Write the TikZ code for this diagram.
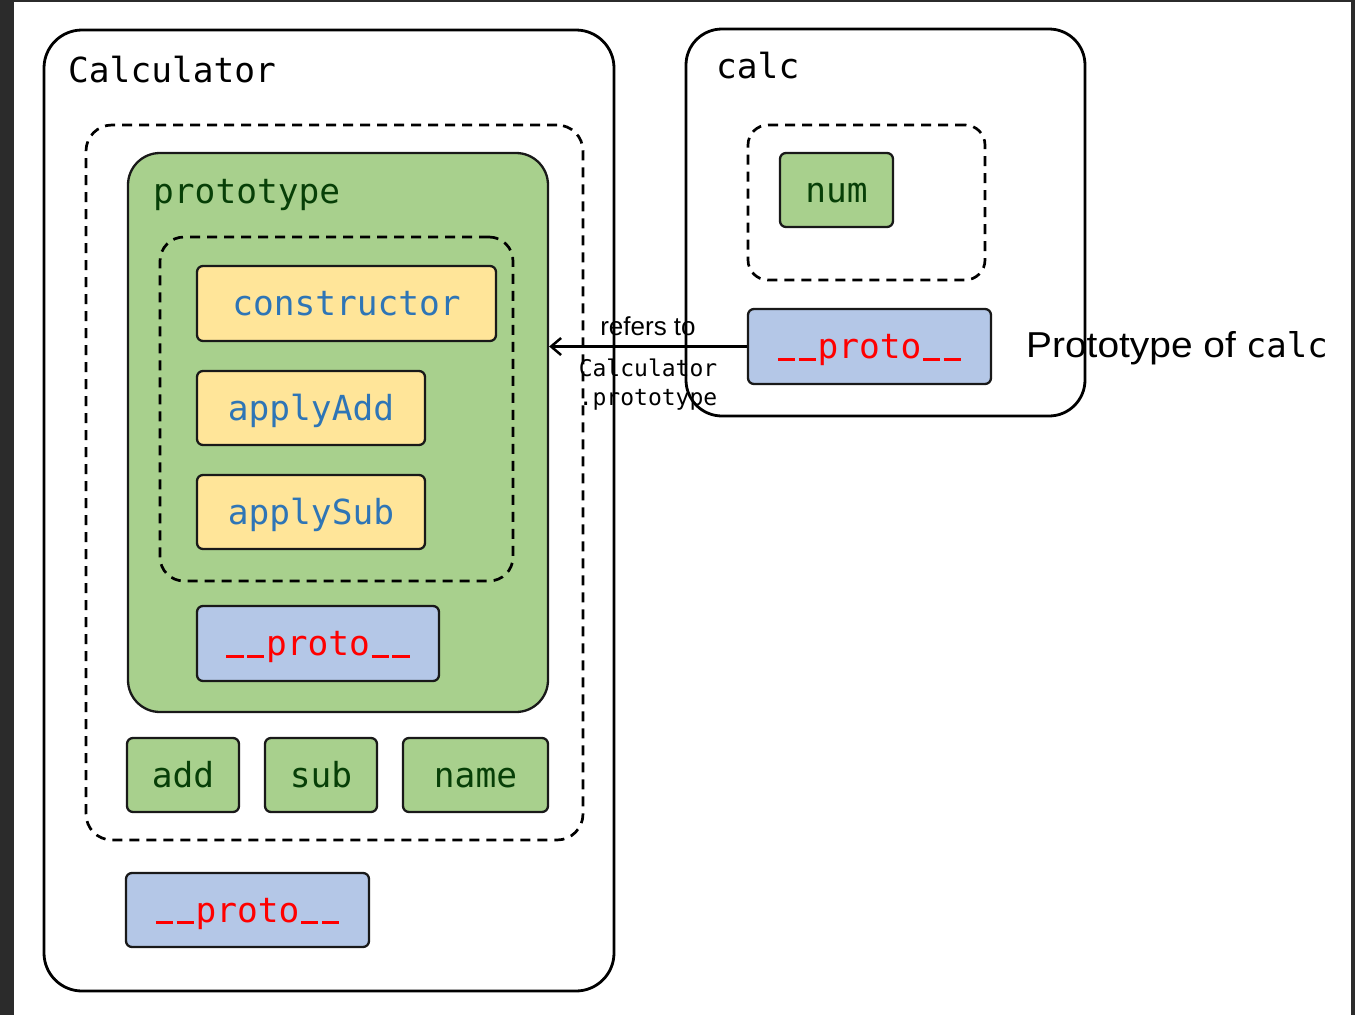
\documentclass[tikz,border=0pt]{standalone}
\usepackage{fontspec}
\setmainfont{Liberation Sans}
\setmonofont{DejaVu Sans Mono}
\usetikzlibrary{arrows.meta}
\definecolor{framebg}{HTML}{2B2B2B}
\definecolor{pgreen}{HTML}{A8D08D}
\definecolor{dgreen}{HTML}{073F07}
\definecolor{pyellow}{HTML}{FFE599}
\definecolor{pblue}{HTML}{2E75B6}
\definecolor{pproto}{HTML}{B4C7E7}
\definecolor{pred}{HTML}{FF0000}
\newcommand\boxfont{\fontsize{34.5}{40}\selectfont\ttfamily}
\newcommand\usc{\makebox[0.602em]{\rule[-0.06em]{0.5em}{0.095em}}}
\newcommand\protolabel{\usc\usc proto\usc\usc}
\tikzset{
  container/.style={draw=black, line width=2.8pt, rounded corners=38pt, inner sep=0pt},
  group/.style={draw=black, line width=2.7pt, dash pattern=on 10pt off 7pt, rounded corners=26pt, inner sep=0pt},
  greenpanel/.style={draw=black!90, line width=2.3pt, fill=pgreen, rounded corners=32pt, inner sep=0pt},
  item/.style={draw=black!90, line width=2.3pt, rounded corners=6pt, inner sep=0pt, font=\boxfont, text height=29.5pt, text depth=5pt},
  method/.style={item, fill=pyellow, text=pblue},
  field/.style={item, fill=pgreen, text=dgreen},
  protobox/.style={item, fill=pproto, text=pred},
  title/.style={anchor=base west, inner sep=0pt, font=\boxfont},
  refarrow/.style={draw=black, line width=2.5pt, -{Straight Barb[length=10pt,width=17pt,line width=2.5pt]}},
}
\begin{document}
\begin{tikzpicture}[x=1pt,y=-1pt]
% frame
\fill[framebg] (0,0) rectangle (1355,1015);
\fill[white] (14,2) rectangle (1351,1015);
\useasboundingbox (0,0) rectangle (1355,1015);

% Calculator
\node[container, minimum width=570pt, minimum height=961pt] (calculator) at (329,510.5) {};
\node[title] (calctitle) at (68,82) {Calculator};
\node[group, minimum width=497pt, minimum height=715pt] (calcgroup) at (334.5,482.5) {};
\node[greenpanel, minimum width=420pt, minimum height=559pt] (proto) at (338,432.5) {};
\node[title, text=dgreen] (prototitle) at (153,203) {prototype};
\node[group, rounded corners=24pt, minimum width=353pt, minimum height=344pt] (methods) at (336.5,409) {};
\node[method, minimum width=299pt, minimum height=75pt] (ctor) at (346.5,303.5) {constructor};
\node[method, minimum width=228pt, minimum height=74pt] (applyadd) at (311,408) {applyAdd};
\node[method, minimum width=228pt, minimum height=74pt] (applysub) at (311,512) {applySub};
\node[protobox, minimum width=242pt, minimum height=75pt] (protoA) at (318,643.5) {\protolabel};
\node[field, minimum width=112pt, minimum height=74pt] (add) at (183,775) {add};
\node[field, minimum width=112pt, minimum height=74pt] (sub) at (321,775) {sub};
\node[field, minimum width=145pt, minimum height=74pt] (name) at (475.5,775) {name};
\node[protobox, minimum width=243pt, minimum height=74pt] (protoB) at (247.5,910) {\protolabel};

% calc
\node[container, rounded corners=36pt, minimum width=399pt, minimum height=387pt] (calc) at (885.5,222.5) {};
\node[title] (calcname) at (716,78) {calc};
\node[group, rounded corners=20pt, minimum width=237pt, minimum height=155pt] (calcgroup2) at (866.5,202.5) {};
\node[field, minimum width=113pt, minimum height=74pt] (num) at (836.5,190) {num};
\node[protobox, minimum width=243pt, minimum height=75pt] (protoC) at (869.5,346.5) {\protolabel};

% arrow
\draw[refarrow] (protoC.west) -- (protoC.west -| proto.east)
  node[midway, above=10pt, inner sep=0pt, font=\fontsize{26}{30}\selectfont] (refers) {refers to}
  node[midway, below=11pt, inner sep=0pt, align=center, font=\fontsize{23}{29}\selectfont\ttfamily] (reflabel) {Calculator\\.prototype};

\node[anchor=base west, inner sep=0pt, font=\fontsize{36}{40}\selectfont] (protoof) at (1026,357) {\scalebox{1.08}[1]{Prototype of} {\fontsize{34}{40}\selectfont\ttfamily calc}};
\end{tikzpicture}
\end{document}
